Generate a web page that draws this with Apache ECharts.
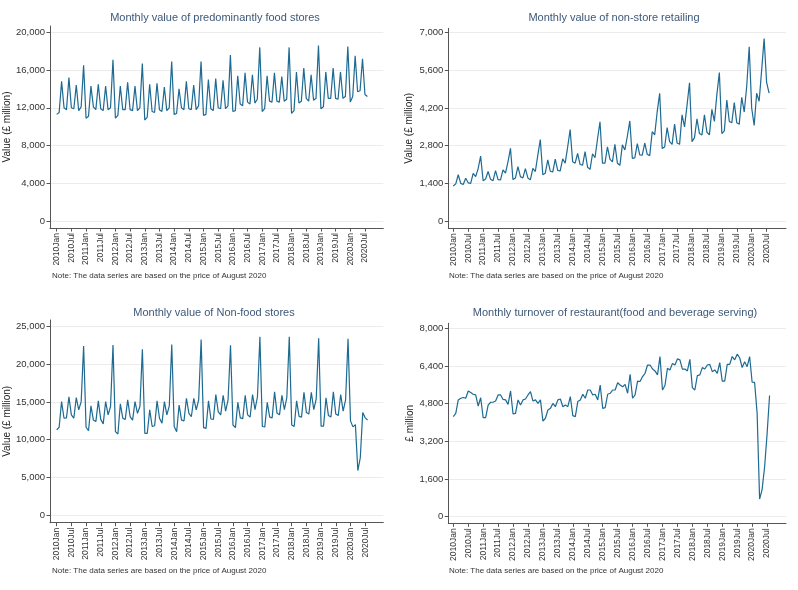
<!DOCTYPE html>
<html><head><meta charset="utf-8">
<script src="https://cdn.jsdelivr.net/npm/echarts@6/dist/echarts.min.js"></script>
<style>html,body{margin:0;padding:0;background:#fff}#c{width:798px;height:590px}</style>
</head><body><div id="c"></div>
<script>
// ---- DATA (monthly, 2010 Jan .. 2020 Aug) ----
const tickLabels = ['2010Jan','2010Jul','2011Jan','2011Jul','2012Jan','2012Jul','2013Jan','2013Jul','2014Jan','2014Jul','2015Jan','2015Jul','2016Jan','2016Jul','2017Jan','2017Jul','2018Jan','2018Jul','2019Jan','2019Jul','2020Jan','2020Jul'];

const foodStores = [
 11300,11500,14800,12000,11800,15200,12000,11900,14400,11700,12100,16500,
 10900,11100,14300,12100,11800,14500,11900,11700,14300,11800,12000,17100,
 10900,11200,14300,11800,11800,14700,11800,11700,14300,11700,12000,16700,
 10700,11000,14500,11600,11500,14600,11800,11600,14200,11700,12000,16900,
 11300,11400,14000,12000,11800,14800,11900,11800,14400,11800,12200,16900,
 11200,11300,15000,11900,11700,15100,12000,11900,14900,11900,12200,17600,
 11600,11700,15400,12400,12200,15700,12600,12400,15500,12500,12900,18400,
 11600,11900,15400,12700,12600,15700,12700,12600,15300,12700,12900,18400,
 11400,11700,15800,12500,12700,16200,13000,12700,15500,12800,13000,18600,
 11900,12100,15800,13000,13000,16200,13000,12900,15800,13000,13200,18500,
 12600,13200,17500,13700,13800,17200,13400,13200];

const nonStore = [
 1300,1380,1720,1400,1360,1590,1420,1400,1770,1650,1950,2410,
 1500,1560,1840,1550,1500,1870,1540,1530,1900,1780,2200,2700,
 1540,1600,2020,1650,1600,1950,1600,1530,1960,1840,2450,3030,
 1720,1780,2270,1850,1820,2300,1880,1860,2310,2150,2750,3400,
 2200,2150,2510,2100,2080,2580,2000,1920,2500,2350,3050,3690,
 2150,2150,2760,2300,2200,2850,2150,2070,2830,2640,3150,3720,
 2330,2350,2880,2460,2450,2900,2480,2430,3320,3200,4060,4750,
 2700,2750,3470,2950,2850,3600,2900,2850,3950,3500,4300,5140,
 2950,3100,3800,3250,3200,3950,3300,3200,4150,3700,4700,5520,
 3250,3350,4500,3700,3650,4400,3650,3600,4600,4050,5000,6480,
 4200,3550,4750,4450,5600,6780,5150,4750];

const nonFood = [
 11300,11650,15050,12850,12900,15700,13300,12850,15600,13950,15050,22450,
 11650,11200,14500,12600,12400,15150,12700,12100,15050,13300,14400,22580,
 11070,10760,14750,12850,12700,15300,13050,12600,15050,13500,14400,22000,
 10850,10850,13950,11750,11850,15150,12850,12200,15050,13300,14500,22650,
 11750,11050,14600,12600,12500,15500,13500,13050,15500,13950,15300,23300,
 11600,11500,15150,12750,12700,16000,13700,13300,15900,13800,15300,22550,
 11950,11600,14950,12900,12800,15900,13300,13000,16000,14000,15700,23650,
 11750,11700,14950,13000,12900,16350,13500,13300,15900,14000,15600,23650,
 11950,11750,15150,13100,13000,16300,13600,13400,16300,14000,15400,23450,
 11800,11800,15550,13200,13000,16350,13400,13200,16000,13800,15300,23400,
 12500,11700,12000,5900,7600,13600,12900,12600];

const restaurant = [
 4250,4390,4960,5030,5060,5030,5340,5270,5200,5170,4700,5050,
 4210,4210,4740,4860,4860,4910,5170,5170,4980,4960,4770,5340,
 4360,4390,4960,4740,4960,5000,5170,5310,4910,4960,4810,4960,
 4060,4180,4530,4600,4810,4670,4960,5000,4670,4740,4670,5100,
 4290,4250,4890,4960,5200,5030,5380,5380,5170,5200,4960,5590,
 4600,4630,5200,5240,5380,5380,5690,5590,5520,5620,5240,6050,
 5030,5170,5760,5740,5950,6090,6440,6440,6270,6190,6020,6800,
 5380,5570,6300,6230,6510,6440,6700,6660,6270,6270,6190,6680,
 5480,5380,5990,6020,6330,6270,6440,6470,6160,6230,6090,6540,
 5760,5760,6470,6470,6800,6660,6900,6750,6330,6580,6370,6800,
 5710,5700,4400,750,1150,2100,3500,5150];

const foodTicks = [0,4000,8000,12000,16000,20000];
const nonStoreTicks = [0,1400,2800,4200,5600,7000];
const nonFoodTicks = [0,5000,10000,15000,20000,25000];
const restaurantTicks = [0,1600,3200,4800,6400,8000];

const titles = ['Monthly value of predominantly food stores','Monthly value of non-store retailing','Monthly value of Non-food stores','Monthly turnover of restaurant(food and beverage serving)'];
const yNames = ['Value (£ million)','Value (£ million)','Value (£ million)','£ million'];
const noteText = 'Note: The data series are based on the price of August 2020';

// ---- LAYOUT ----
const FONT = '"Liberation Sans", Arial, sans-serif';
const LINE = '#1d6a92';
const panels = [
  {data: foodStores, ticks: foodTicks, grid:{left:50, top:26, width:333.3, height:202}, y:[-742,20668], x:[-2.74,133.5], tx:215, ty:12, nx:52, ny:272, gap:34},
  {data: nonStore, ticks: nonStoreTicks, grid:{left:448.3, top:28.3, width:337.7, height:200}, y:[-271,7164], x:[-2.0,133.8], tx:614, ty:12, nx:449, ny:272, gap:34},
  {data: nonFood, ticks: nonFoodTicks, grid:{left:50, top:320, width:333.3, height:202.7}, y:[-1022,25890], x:[-2.73,133.4], tx:214, ty:307, nx:52, ny:567, gap:34},
  {data: restaurant, ticks: restaurantTicks, grid:{left:448.3, top:323.3, width:337.7, height:200}, y:[-280,8212], x:[-2.0,133.6], tx:615, ty:307, nx:449, ny:567, gap:31}
];

function fmt(v){ return String(v).replace(/\B(?=(\d{3})+(?!\d))/g, ','); }
const tickPos = tickLabels.map((_, k) => k * 6);

const option = {
  animation: false,
  backgroundColor: '#fff',
  title: panels.map((p,k) => ({
    text: titles[k], left: p.tx, top: p.ty, textAlign: 'center', padding: 0,
    textStyle: {fontFamily: FONT, fontSize: 11, fontWeight: 'normal', color: '#3d5878'}
  })),
  grid: panels.map(p => Object.assign({containLabel:false}, p.grid)),
  xAxis: panels.map((p,k) => ({
    type: 'value', gridIndex: k, min: p.x[0], max: p.x[1],
    axisLine: {onZero: false, lineStyle: {color: '#555', width: 1}},
    axisTick: {show: true, length: 3.5, customValues: tickPos, lineStyle: {color: '#555'}},
    axisLabel: {customValues: tickPos, rotate: 90, margin: 5, fontFamily: FONT, fontSize: 8.5, color: '#333',
      formatter: v => tickLabels[Math.round(v/6)]},
    splitLine: {show: false}
  })),
  yAxis: panels.map((p,k) => ({
    type: 'value', gridIndex: k, min: p.y[0], max: p.y[1],
    name: yNames[k], nameLocation: 'middle', nameGap: p.gap, nameRotate: 90,
    nameTextStyle: {fontFamily: FONT, fontSize: 10, color: '#222'},
    axisLine: {show: true, onZero: false, lineStyle: {color: '#555', width: 1}},
    axisTick: {show: true, length: 3.5, customValues: p.ticks, lineStyle: {color: '#555'}},
    axisLabel: {customValues: p.ticks, margin: 5, fontFamily: FONT, fontSize: 9.5, color: '#333', formatter: v => fmt(v)},
    splitLine: {show: true, lineStyle: {color: '#ececec', width: 1}}
  })),
  graphic: panels.map(p => ({
    type: 'text', left: p.nx, top: p.ny,
    style: {text: noteText, fontFamily: FONT, fontSize: 8, fill: '#333'}
  })),
  series: panels.map((p,k) => ({
    type: 'line', xAxisIndex: k, yAxisIndex: k, showSymbol: false, symbol: 'none',
    lineStyle: {color: LINE, width: 1.2}, itemStyle: {color: LINE},
    data: p.data.map((v,i) => [i, v])
  }))
};
echarts.init(document.getElementById('c')).setOption(option);
</script></body></html>
